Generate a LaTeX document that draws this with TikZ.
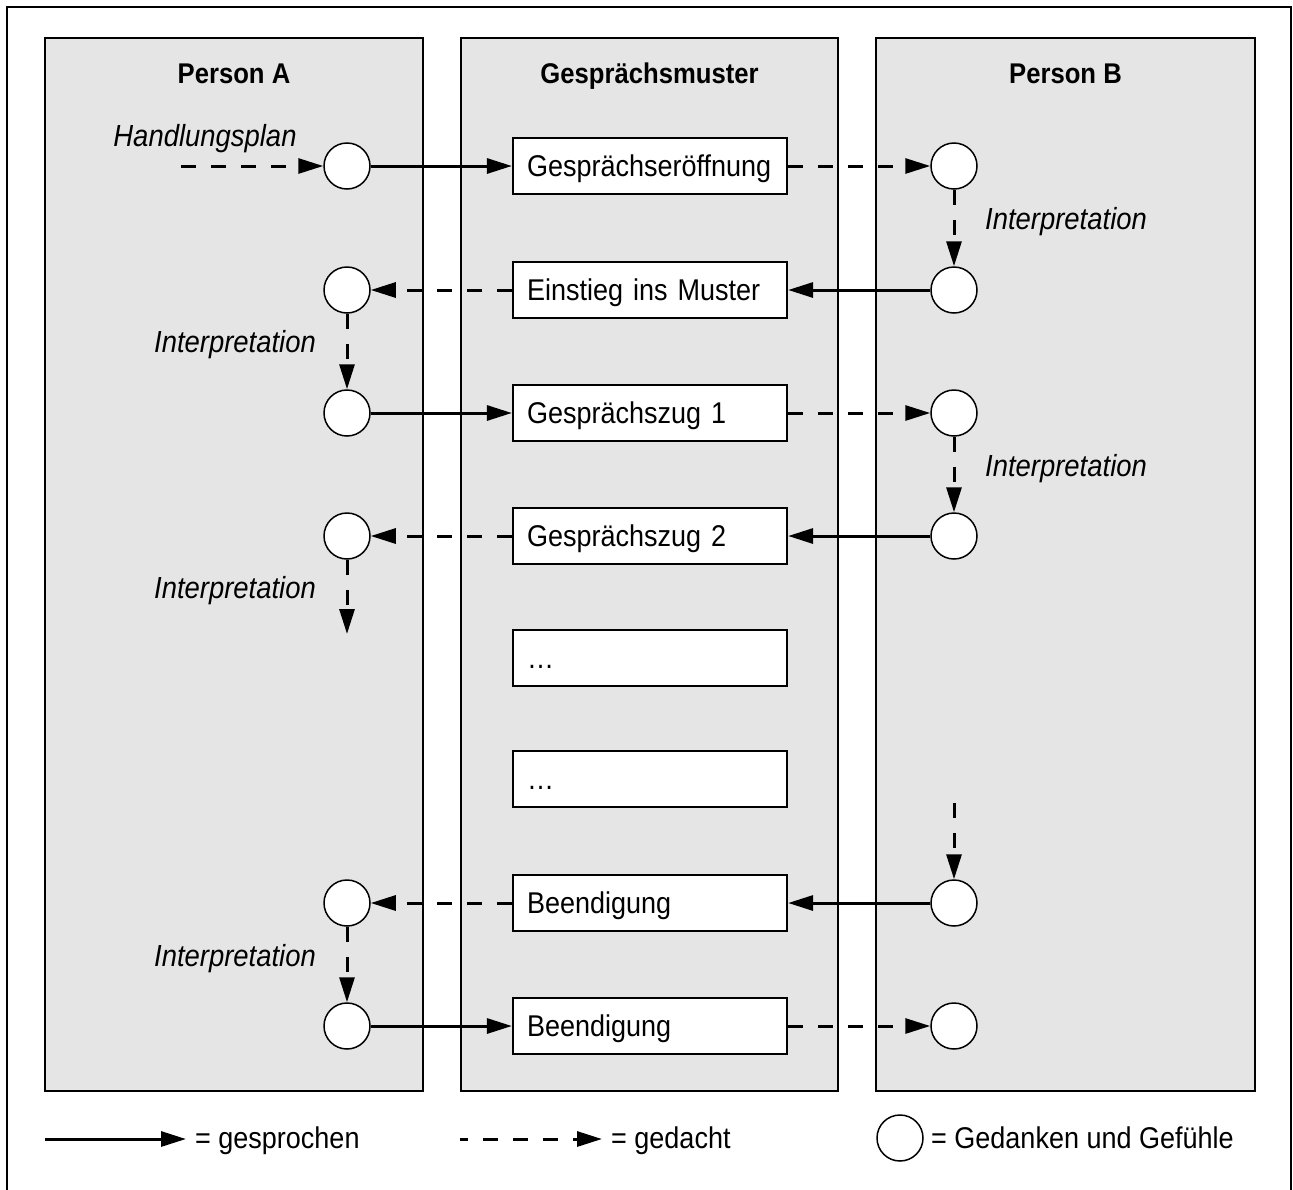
\documentclass[tikz,border=0pt]{standalone}
\usepackage{fontspec}
\setmainfont[FakeStretch=0.9]{Liberation Sans}
\usetikzlibrary{arrows.meta}
\definecolor{lanegray}{HTML}{E5E5E5}
\begin{document}
\begin{tikzpicture}[x=1pt,y=-1pt,
  every node/.style={font=\fontsize{30pt}{36pt}\selectfont, inner sep=0pt,
    text height=21.5pt, text depth=0pt},
  lane/.style={draw, fill=lanegray, line width=2.8pt},
  header/.style={font=\fontsize{28.5pt}{34pt}\selectfont\bfseries, text height=20.5pt},
  movebox/.style={draw, fill=white, line width=2.2pt, minimum width=274pt,
    minimum height=56pt, text width=246pt, align=left},
  mind/.style={circle, draw, fill=white, line width=1.5pt, minimum size=46pt},
  said/.style={line width=3pt, -{Triangle[length=25pt,width=15pt]}},
  thought/.style={said, dash pattern=on 15pt off 15pt},
  note/.style={font=\fontsize{30.5pt}{36pt}\selectfont\itshape, text height=22pt}]
\useasboundingbox (0,0) rectangle (1293,1189);
\draw[line width=2pt] (7,1200) -- (7,7) -- (1291,7) -- (1291,1200);

% three lanes
\draw[lane] (45,38) rectangle (423,1091);
\draw[lane] (461,38) rectangle (838,1091);
\draw[lane] (876,38) rectangle (1255,1091);
\node[header] (hA) at (234,73) {Person A};
\node[header] (hM) at (649.5,73) {Gesprächsmuster};
\node[header] (hB) at (1065.5,73) {Person B};

% conversation pattern
\node[movebox] (m1) at (650,166) {Gesprächseröffnung};
\node[movebox] (m2) at (650,290) {Einstieg ins Muster};
\node[movebox] (m3) at (650,413) {Gesprächszug 1};
\node[movebox] (m4) at (650,536) {Gesprächszug 2};
\node[movebox] (m5) at (650,658) {…};
\node[movebox] (m6) at (650,779) {…};
\node[movebox] (m7) at (650,903) {Beendigung};
\node[movebox] (m8) at (650,1026) {Beendigung};

% thoughts and feelings
\node[mind] (a1) at (347,166) {};
\node[mind] (a2) at (347,290) {};
\node[mind] (a3) at (347,413) {};
\node[mind] (a4) at (347,536) {};
\node[mind] (a5) at (347,903) {};
\node[mind] (a6) at (347,1026) {};
\node[mind] (b1) at (954,166) {};
\node[mind] (b2) at (954,290) {};
\node[mind] (b3) at (954,413) {};
\node[mind] (b4) at (954,536) {};
\node[mind] (b5) at (954,903) {};
\node[mind] (b6) at (954,1026) {};

\coordinate (plan) at (181,166);
\coordinate (aend) at (347,634);
\coordinate (bstart) at (954,803);

\node[note] (lplan) at (205,135) {Handlungsplan};
\node[note] (ib1) at (1066,218) {Interpretation};
\node[note] (ia1) at (235,341) {Interpretation};
\node[note] (ib2) at (1066,465) {Interpretation};
\node[note] (ia2) at (235,587) {Interpretation};
\node[note] (ia3) at (235,955) {Interpretation};

% connectors
\draw[thought] (plan) -- (a1);
\draw[said] (a1) -- (m1);
\draw[thought] (m1) -- (b1);
\draw[thought] (b1) -- (b2);
\draw[said] (b2) -- (m2);
\draw[thought] (m2) -- (a2);
\draw[thought] (a2) -- (a3);
\draw[said] (a3) -- (m3);
\draw[thought] (m3) -- (b3);
\draw[thought] (b3) -- (b4);
\draw[said] (b4) -- (m4);
\draw[thought] (m4) -- (a4);
\draw[thought] (a4) -- (aend);
\draw[thought] (bstart) -- (b5);
\draw[said] (b5) -- (m7);
\draw[thought] (m7) -- (a5);
\draw[thought] (a5) -- (a6);
\draw[said] (a6) -- (m8);
\draw[thought] (m8) -- (b6);

% legend
\coordinate (ls0) at (45,1139);
\coordinate (ls1) at (186,1139);
\coordinate (ld0) at (460,1139);
\coordinate (ld1) at (602,1139);
\draw[said] (ls0) -- (ls1);
\node[anchor=west] (lsay) at (195,1138) {= gesprochen};
\draw[thought, dash pattern=on 15pt off 15pt, dash phase=7pt] (ld0) -- (ld1);
\node[anchor=west] (lthink) at (611,1138) {= gedacht};
\node[mind] (lmind) at (900,1138) {};
\node[anchor=west] (lfeel) at (931,1138) {= Gedanken und Gefühle};
\end{tikzpicture}
\end{document}
